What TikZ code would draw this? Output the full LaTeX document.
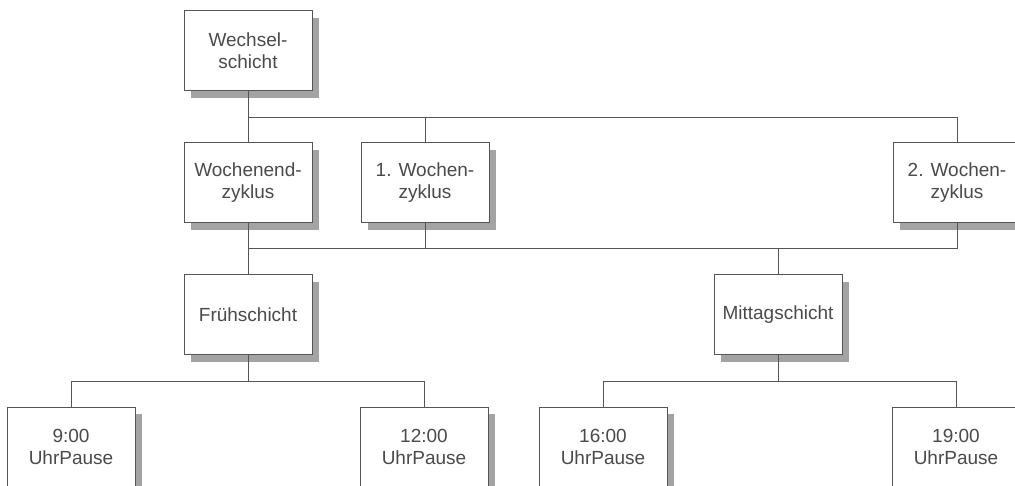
\documentclass[tikz,border=0pt]{standalone}
\usepackage{fontspec}
\setmainfont{Liberation Sans}
\usepackage{tikz}
\usetikzlibrary{positioning,shadows}
\definecolor{linegray}{HTML}{555555}
\definecolor{textgray}{HTML}{4A4A4A}
\definecolor{shadowgray}{HTML}{A3A3A3}

\begin{document}
\begin{tikzpicture}[x=1pt,y=1pt,node distance=51pt, every node/.style={align=center,font=\fontsize{19}{22}\selectfont}, box/.style={draw=linegray,fill=white,text=textgray,line width=1pt,minimum width=128pt,minimum height=80pt,inner sep=2pt,general shadow={fill=shadowgray,shadow xshift=7pt,shadow yshift=-7pt}}, link/.style={linegray,line width=1pt}]
\fill[white] (0,0) rectangle (1015,-486);
\useasboundingbox (0,0) rectangle (1015,-486);
\node[box] (wechsel) at (248,-51) {Wechsel-\\schicht};
\node[box,below=of wechsel] (wochenend) {Wochenend-\\zyklus};
\node[box,right=48pt of wochenend] (woche1) {1. Wochen-\\zyklus};
\node[box,right=403pt of woche1] (woche2) {2. Wochen-\\zyklus};
\node[box,below=of wochenend] (frueh) {Frühschicht};
\node[box,right=401pt of frueh] (mittag) {Mittagschicht};
\node[box,below=of frueh,xshift=-177pt] (pause9) {9:00\\UhrPause};
\node[box,below=of frueh,xshift=176pt] (pause12) {12:00\\UhrPause};
\node[box,below=of mittag,xshift=-175pt] (pause16) {16:00\\UhrPause};
\node[box,below=of mittag,xshift=178pt] (pause19) {19:00\\UhrPause};
% first level
\draw[link] (wechsel.south) -- ++(0,-26) coordinate (top) -| (woche2.north);
\draw[link] (top) -- (wochenend.north);
\draw[link] (top) -| (woche1.north);
% second level
\draw[link] (wochenend.south) -- ++(0,-25) coordinate (mid) -| (woche2.south);
\draw[link] (mid) -- (frueh.north);
\draw[link] (mid) -| (woche1.south);
\draw[link] (mittag.north) -- (mittag.north |- mid);
% breaks
\draw[link] (frueh.south) -- ++(0,-26) coordinate (fj);
\draw[link] (pause9.north) |- (fj) -| (pause12.north);
\draw[link] (mittag.south) -- ++(0,-26) coordinate (mj);
\draw[link] (pause16.north) |- (mj) -| (pause19.north);
\end{tikzpicture}
\end{document}
